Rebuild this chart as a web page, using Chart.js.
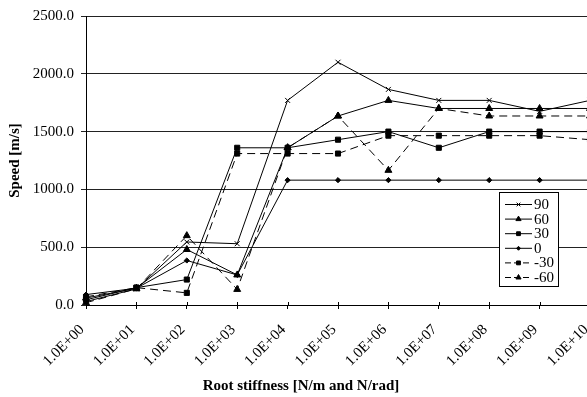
<!DOCTYPE html>
<html>
<head>
<meta charset="utf-8">
<title>Speed vs root stiffness</title>
<script src="https://cdn.jsdelivr.net/npm/chart.js@4.4.0/dist/chart.umd.min.js"></script>
<style>
    html, body { margin: 0; padding: 0; background: #fff; overflow: hidden; }
    #wrap { width: 602px; height: 397px; }
</style>
</head>
<body>
<div id="wrap"><canvas id="speedChart" width="602" height="397"></canvas></div>
<script>
// Categories (root stiffness) and speed series
const stiffLabels = ["1.0E+00", "1.0E+01", "1.0E+02", "1.0E+03", "1.0E+04", "1.0E+05",
                     "1.0E+06", "1.0E+07", "1.0E+08", "1.0E+09", "1.0E+10"];
const speed90  = [30, 140, 545, 530, 1770, 2100, 1865, 1770, 1770, 1675, 1770];
const speed60  = [60, 145, 480, 260, 1360, 1635, 1770, 1700, 1700, 1700, 1700];
const speed30  = [45, 150, 220, 1360, 1360, 1430, 1500, 1360, 1500, 1500, 1500];
const speed0   = [90, 145, 385, 260, 1080, 1080, 1080, 1080, 1080, 1080, 1080];
const speedM30 = [70, 150, 105, 1310, 1310, 1310, 1465, 1465, 1465, 1465, 1430];
const speedM60 = [20, 140, 600, 135, 1360, 1635, 1165, 1700, 1635, 1635, 1635];
const seriesNames = ["90", "60", "30", "0", "-30", "-60"];
const yTicks = [0, 500, 1000, 1500, 2000, 2500];

const serif = "'Liberation Serif', 'Times New Roman', serif";
const dash = [8, 5];

function makeSet(label, data, style, radius, dashed) {
    return {
        label: label,
        data: data,
        borderColor: "#000",
        backgroundColor: "#000",
        borderWidth: 1,
        borderDash: dashed ? dash : [],
        pointStyle: style,
        pointRadius: radius,
        pointHoverRadius: radius,
        pointBackgroundColor: "#000",
        pointBorderColor: "#000",
        pointBorderWidth: 1,
        tension: 0,
        fill: false
    };
}

// Boxed legend sitting inside the plot, lower right
const boxLegend = {
    id: "boxLegend",
    afterDraw(chart) {
        const ctx = chart.ctx;
        const x0 = 499.5, y0 = 192.5, w = 59, h = 94;
        ctx.save();
        ctx.fillStyle = "#fff";
        ctx.fillRect(x0, y0, w, h);
        ctx.strokeStyle = "#000";
        ctx.lineWidth = 1;
        ctx.strokeRect(x0, y0, w, h);

        chart.data.datasets.forEach((ds, i) => {
            const y = 204.5 + i * 14.6;
            ctx.strokeStyle = "#000";
            ctx.lineWidth = 1;
            ctx.setLineDash(ds.borderDash.length ? [6, 3] : []);
            ctx.beginPath();
            ctx.moveTo(505, y);
            ctx.lineTo(532, y);
            ctx.stroke();
            ctx.setLineDash([]);
            ctx.fillStyle = "#000";
            Chart.helpers.drawPoint(ctx, {
                pointStyle: ds.pointStyle,
                radius: ds.pointRadius * 0.75,
                rotation: 0,
                borderWidth: 1
            }, 518.5, y);

            ctx.fillStyle = "#000";
            ctx.font = "15px " + serif;
            ctx.textAlign = "left";
            ctx.textBaseline = "middle";
            ctx.fillText(ds.label, 534, y + 0.5);
        });
        ctx.restore();
    }
};

// Small tick marks on the x axis poke up into the plot as well
const innerTicks = {
    id: "innerTicks",
    afterDatasetsDraw(chart) {
        const xs = chart.scales.x;
        const ctx = chart.ctx;
        ctx.save();
        ctx.strokeStyle = "#000";
        ctx.lineWidth = 1;
        ctx.beginPath();
        stiffLabels.forEach((l, i) => {
            const px = Math.round(xs.getPixelForTick(i)) + 0.5;
            ctx.moveTo(px, xs.top - 3);
            ctx.lineTo(px, xs.top);
        });
        ctx.stroke();
        ctx.restore();
    }
};

const chart = new Chart(document.getElementById("speedChart"), {
    type: "line",
    data: {
        labels: stiffLabels,
        datasets: [
            makeSet(seriesNames[0], speed90, "crossRot", 3.5, false),
            makeSet(seriesNames[1], speed60, "triangle", 4, false),
            makeSet(seriesNames[2], speed30, "rect", 3.6, false),
            makeSet(seriesNames[3], speed0, "rectRot", 2.6, false),
            makeSet(seriesNames[4], speedM30, "rect", 3.6, true),
            makeSet(seriesNames[5], speedM60, "triangle", 4, true)
        ]
    },
    options: {
        responsive: false,
        animation: false,
        events: [],
        layout: { padding: { left: 12, right: 12, top: 16, bottom: 0 } },
        plugins: {
            legend: { display: false },
            tooltip: { enabled: false },
            title: {
                display: true,
                position: "bottom",
                text: "Root stiffness [N/m and N/rad]",
                color: "#000",
                font: { family: serif, size: 15, weight: "bold" },
                padding: { top: 4, bottom: 2 }
            }
        },
        scales: {
            x: {
                type: "category",
                offset: false,
                grid: { display: true, drawOnChartArea: false, drawTicks: true, tickLength: 4, color: "#000" },
                border: { display: true, color: "#000", width: 1 },
                ticks: {
                    autoSkip: false,
                    maxRotation: 45,
                    minRotation: 45,
                    padding: 12,
                    labelOffset: -4,
                    color: "#000",
                    font: { family: serif, size: 15 }
                },
                afterFit(scale) {
                    // fixed height, and let the last category run to the right edge
                    scale.height = 68;
                    scale.paddingLeft = 0;
                    scale.paddingRight = 0;
                }
            },
            y: {
                min: 0,
                max: 2500,
                afterBuildTicks(scale) { scale.ticks = yTicks.map(v => ({ value: v })); },
                grid: { color: "#222", lineWidth: 1, tickLength: 5, drawTicks: true },
                border: { display: true, color: "#000", width: 1 },
                ticks: {
                    padding: 7,
                    color: "#000",
                    font: { family: serif, size: 15 },
                    callback: v => Number(v).toFixed(1)
                },
                title: {
                    display: true,
                    text: "Speed [m/s]",
                    color: "#000",
                    font: { family: serif, size: 15, weight: "bold" },
                    padding: { top: -6, bottom: 0 }
                },
                afterFit(scale) { scale.width = 74; }
            }
        }
    },
    plugins: [boxLegend, innerTicks]
});
</script>
</body>
</html>
